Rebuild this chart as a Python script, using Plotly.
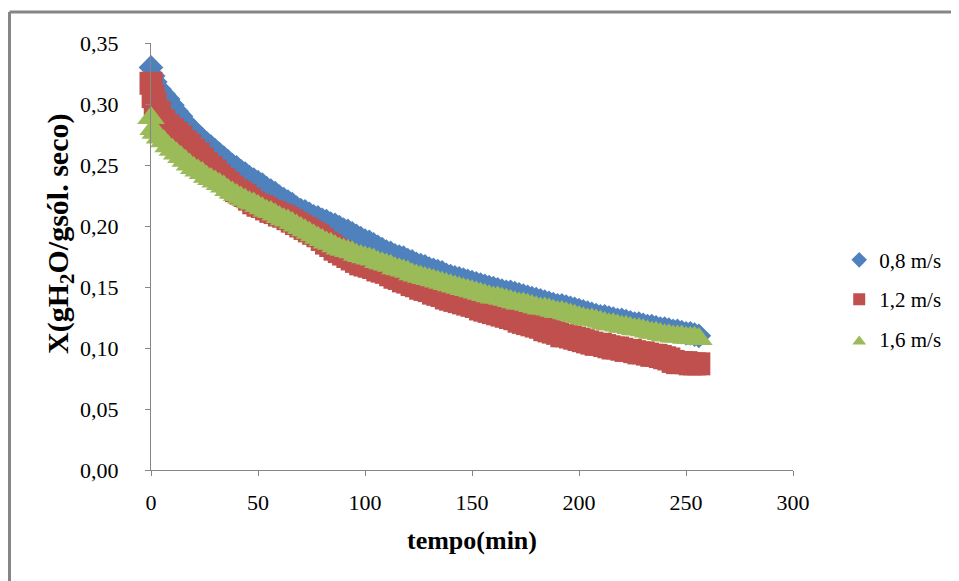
import plotly.graph_objects as go

tempo = [0, 1] + list(range(2, 257, 2))

x_08 = [0.330, 0.323,
        0.318, 0.312, 0.308, 0.304, 0.299, 0.294, 0.290, 0.285, 0.281, 0.278,
        0.274, 0.271, 0.268, 0.265, 0.262, 0.259, 0.256, 0.253, 0.250, 0.248,
        0.245, 0.243, 0.240, 0.238, 0.236, 0.234, 0.231, 0.229, 0.227, 0.224,
        0.222, 0.220, 0.218, 0.215, 0.213, 0.212, 0.210, 0.208, 0.207, 0.205,
        0.204, 0.202, 0.201, 0.199, 0.197, 0.196, 0.194, 0.192, 0.190, 0.188,
        0.187, 0.185, 0.183, 0.181, 0.179, 0.178, 0.176, 0.175, 0.174, 0.172,
        0.171, 0.169, 0.168, 0.167, 0.165, 0.164, 0.163, 0.162, 0.160, 0.159,
        0.158, 0.157, 0.156, 0.155, 0.154, 0.153, 0.152, 0.151, 0.150, 0.149,
        0.148, 0.147, 0.146, 0.146, 0.145, 0.144, 0.143, 0.142, 0.141, 0.140,
        0.139, 0.138, 0.137, 0.136, 0.135, 0.135, 0.134, 0.133, 0.132, 0.131,
        0.130, 0.129, 0.128, 0.127, 0.126, 0.126, 0.125, 0.124, 0.123, 0.123,
        0.122, 0.121, 0.120, 0.120, 0.119, 0.118, 0.118, 0.117, 0.116, 0.116,
        0.115, 0.114, 0.114, 0.113, 0.112, 0.112, 0.111, 0.110]

x_12 = [0.317, 0.306,
        0.300, 0.293, 0.286, 0.282, 0.279, 0.276, 0.273, 0.269, 0.266, 0.262,
        0.259, 0.255, 0.251, 0.248, 0.245, 0.241, 0.238, 0.235, 0.232, 0.229,
        0.227, 0.225, 0.222, 0.219, 0.217, 0.216, 0.214, 0.212, 0.211, 0.209,
        0.208, 0.206, 0.204, 0.202, 0.200, 0.198, 0.196, 0.194, 0.192, 0.189,
        0.186, 0.184, 0.181, 0.179, 0.177, 0.175, 0.173, 0.171, 0.169, 0.168,
        0.167, 0.166, 0.164, 0.163, 0.162, 0.160, 0.158, 0.157, 0.155, 0.154,
        0.152, 0.151, 0.149, 0.148, 0.147, 0.145, 0.144, 0.143, 0.141, 0.140,
        0.139, 0.138, 0.137, 0.136, 0.135, 0.134, 0.132, 0.131, 0.130, 0.129,
        0.128, 0.127, 0.126, 0.125, 0.124, 0.122, 0.121, 0.120, 0.119, 0.118,
        0.117, 0.115, 0.114, 0.113, 0.112, 0.110, 0.110, 0.109, 0.108, 0.107,
        0.106, 0.105, 0.104, 0.103, 0.103, 0.102, 0.101, 0.100, 0.100, 0.099,
        0.098, 0.098, 0.097, 0.096, 0.096, 0.095, 0.094, 0.094, 0.093, 0.092,
        0.091, 0.089, 0.088, 0.088, 0.088, 0.087, 0.087, 0.087]

x_16 = [0.286, 0.277,
        0.274, 0.270, 0.267, 0.263, 0.260, 0.257, 0.254, 0.251, 0.248, 0.245,
        0.243, 0.241, 0.238, 0.236, 0.234, 0.232, 0.230, 0.227, 0.225, 0.223,
        0.221, 0.219, 0.217, 0.216, 0.214, 0.212, 0.210, 0.209, 0.207, 0.205,
        0.203, 0.202, 0.200, 0.198, 0.196, 0.194, 0.192, 0.190, 0.188, 0.186,
        0.184, 0.183, 0.181, 0.179, 0.178, 0.177, 0.176, 0.174, 0.173, 0.172,
        0.171, 0.170, 0.168, 0.167, 0.166, 0.165, 0.163, 0.162, 0.161, 0.160,
        0.158, 0.157, 0.156, 0.155, 0.154, 0.153, 0.152, 0.151, 0.150, 0.149,
        0.148, 0.147, 0.146, 0.145, 0.144, 0.143, 0.142, 0.141, 0.140, 0.139,
        0.139, 0.138, 0.137, 0.136, 0.135, 0.134, 0.134, 0.133, 0.132, 0.131,
        0.130, 0.130, 0.129, 0.128, 0.127, 0.127, 0.126, 0.125, 0.124, 0.123,
        0.122, 0.121, 0.121, 0.120, 0.119, 0.118, 0.117, 0.117, 0.116, 0.115,
        0.115, 0.114, 0.113, 0.113, 0.112, 0.111, 0.110, 0.110, 0.109, 0.108,
        0.108, 0.107, 0.107, 0.107, 0.106, 0.106, 0.106, 0.105]

series_names = ["0,8 m/s", "1,2 m/s", "1,6 m/s"]
x_ticks = [0, 50, 100, 150, 200, 250, 300]
y_ticks = [0.00, 0.05, 0.10, 0.15, 0.20, 0.25, 0.30, 0.35]

FONT = "Liberation Serif, Times New Roman, serif"

# page body has an 8px default margin; keep the figure inside the window
FW, FH = 951, 573
ML, MT, PW, PH = 143, 35, 642, 427

fig = go.Figure()
styles = [
    dict(symbol="diamond", color="#4F81BD", size=19),
    dict(symbol="square", color="#C0504D", size=23),
    dict(symbol="triangle-down", angle=180, standoff=3, color="#9BBB59", size=24),
]
for name, vals, st in zip(series_names, [x_08, x_12, x_16], styles):
    fig.add_trace(go.Scatter(
        x=tempo, y=vals, mode="markers", name=name, legendgroup=name,
        marker=dict(line=dict(width=0), **st),
        cliponaxis=False,
    ))

axis_common = dict(
    showgrid=False, zeroline=False, showline=True, linecolor="#868686",
    linewidth=1, ticks="outside", ticklen=5, tickcolor="#868686",
    tickfont=dict(family=FONT, size=22, color="#000000"),
    automargin=False,
)

border = dict(color="#868686", width=3)
px_x = lambda fx: (fx - ML) / PW
px_y = lambda fy: (MT + PH - fy) / PH

fig.update_layout(
    width=FW, height=FH,
    margin=dict(l=ML, r=FW - ML - PW, t=MT, b=FH - MT - PH),
    paper_bgcolor="#FFFFFF", plot_bgcolor="#FFFFFF",
    separators=",.",
    showlegend=True,
    legend=dict(
        x=1.072, y=0.40, xanchor="left", yanchor="middle",
        font=dict(family=FONT, size=21, color="#000000"),
        itemsizing="constant", tracegroupgap=9, traceorder="grouped",
        bgcolor="rgba(0,0,0,0)",
    ),
    xaxis=dict(
        range=[0, 300], tickvals=x_ticks, ticklabelstandoff=8,
        title=dict(text="<b>tempo(min)</b>", standoff=16,
                   font=dict(family=FONT, size=26, color="#000000")),
        **axis_common,
    ),
    yaxis=dict(
        range=[0, 0.35], tickvals=y_ticks, tickformat=".2f", ticklabelstandoff=22,
        **axis_common,
    ),
    annotations=[dict(
        text="<b>X(gH<sub>2</sub>O/gsól. seco)</b>", textangle=-90,
        xref="paper", yref="paper",
        x=px_x(52), y=px_y(226),
        xanchor="center", yanchor="middle", showarrow=False,
        font=dict(family=FONT, size=30, color="#000000"),
    )],
    shapes=[
        dict(type="line", xref="paper", yref="paper",
             x0=px_x(1.5), x1=px_x(FW + 5), y0=px_y(4), y1=px_y(4), line=border,
             layer="below"),
        dict(type="line", xref="paper", yref="paper",
             x0=px_x(1.5), x1=px_x(1.5), y0=px_y(4), y1=px_y(FH + 5), line=border,
             layer="below"),
    ],
)

fig.write_html("out.html")
